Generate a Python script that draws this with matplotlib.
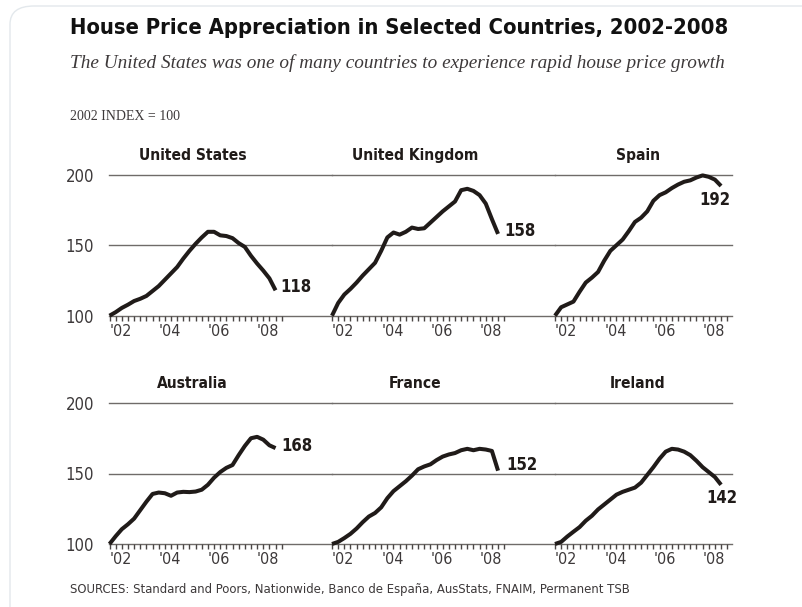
import matplotlib
matplotlib.use("Agg")
import matplotlib.pyplot as plt
import numpy as np
from matplotlib import font_manager as fm
from matplotlib.patches import FancyBboxPatch

# ---------------- data (2002 index = 100, quarterly) ----------------
quarters = [2002 + 0.25 * i for i in range(28)]

us = [100, 102.5, 105.5, 107.8, 110.4, 112, 114, 117.5, 121, 125.5, 130, 134.5,
      140.5, 146, 151, 155.5, 159.5, 159.5, 157, 156.5, 155, 151.5, 148.8, 142.5,
      137, 132, 126.5, 118]
uk = [100, 109, 115, 119, 123.5, 128.5, 133, 137.5, 146, 155.5, 159, 157.5,
      159.5, 162.5, 161.5, 162, 166, 170, 174, 177.5, 181, 189, 190, 188.5,
      185.5, 179.5, 168.5, 158]
spain = [100, 106, 108, 110, 117, 123.5, 127, 131, 139, 146, 150, 154,
         160, 166.5, 169.5, 174, 181.5, 185.5, 187.5, 190.5, 193, 195, 196, 198,
         199.5, 198.5, 196.5, 192]
australia = [100, 105.5, 110.5, 114, 118, 124, 130, 135.5, 136.5, 136, 134.2, 136.5,
             137, 136.8, 137.2, 138.5, 142, 147, 151, 154, 156, 163, 169.5, 175,
             176, 174, 170, 168]
france = [100, 101.5, 104.2, 107.2, 111, 115.5, 119.5, 122, 126, 132.5, 137.5, 141,
          144.5, 148.5, 153, 155, 156.5, 159.5, 162, 163.5, 164.5, 166.5, 167.5, 166.5,
          167.5, 167, 166, 152]
ireland = [100, 101.5, 105.3, 108.7, 112, 116.5, 120, 124.5, 128, 131.5, 135, 137,
           138.5, 140, 143.5, 149, 154.5, 160.5, 165.5, 167.5, 167, 165.5, 163, 159,
           154.5, 151, 147.5, 142]

countries = ["United States", "United Kingdom", "Spain", "Australia", "France", "Ireland"]
series = [us, uk, spain, australia, france, ireland]
year_ticks = [2002, 2004, 2006, 2008]
year_labels = ["'02", "'04", "'06", "'08"]
y_ticks = [100, 150, 200]

# ---------------- style ----------------
INK = "#201b19"
SOFT = "#3d393a"
GRID = "#6f6b69"
SERIF = ["Liberation Serif", "DejaVu Serif"]

# pick a condensed sans if one is installed
_fonts = fm.fontManager.ttflist
if any(f.name == "DejaVu Sans" and f.stretch == "condensed" for f in _fonts):
    COND = dict(family="DejaVu Sans", stretch="condensed")
else:
    COND = dict(family=["Liberation Sans", "DejaVu Sans"])

W, H = 802, 607
fig = plt.figure(figsize=(W / 100, H / 100), dpi=100)
fig.patch.set_facecolor("white")
renderer = fig.canvas.get_renderer()


def fit_width(txt, target_px):
    # scale a text so it spans the same width as in the reference
    w = txt.get_window_extent(renderer=renderer).width
    txt.set_fontsize(txt.get_fontsize() * target_px / w)


# faint card border
card = FancyBboxPatch((10 / W, -0.05), 1.2, 1 - 6 / H + 0.05,
                      boxstyle="round,pad=0,rounding_size=0.03",
                      transform=fig.transFigure, facecolor="none",
                      edgecolor="#e3e8ec", linewidth=1.0)
fig.patches.append(card)

PX_PER_YEAR = 24.6
col_left = [109.5, 332, 555]
col_right = [332, 555, 732]
row_base = [315.7, 544.0]     # pixel y of the 100 line
px_per_unit = 1.41
ymax = 206
title_rows = [155, 384]

axes = []
for k, (name, vals) in enumerate(zip(countries, series)):
    r, c = divmod(k, 3)
    left = col_left[c] / W
    width = (col_right[c] - col_left[c]) / W
    height = (ymax - 100) * px_per_unit / H
    bottom = 1 - row_base[r] / H
    ax = fig.add_axes([left, bottom, width, height])
    axes.append(ax)
    ax.set_xlim(2002, 2002 + (col_right[c] - col_left[c]) / PX_PER_YEAR)
    ax.set_ylim(100, ymax)
    for s in ax.spines.values():
        s.set_visible(False)
    ax.patch.set_alpha(0)

    for yv in y_ticks:
        ax.axhline(yv, color=GRID, lw=1.0, zorder=1, clip_on=False)

    ax.plot(quarters[:len(vals)], vals, color=INK, lw=2.9,
            solid_capstyle="butt", solid_joinstyle="round", zorder=3, clip_on=False)

    # ticks
    ax.set_xticks(year_ticks, year_labels)
    ax.set_xticks(np.arange(2002, 2009.01, 0.25), minor=True)
    ax.tick_params(axis="x", which="both", direction="out", length=3.4, width=1.0,
                   color="#4a4645", pad=2.5, labelsize=11.5, labelcolor=SOFT)
    for lbl in ax.get_xticklabels():
        lbl.set_ha("left")
        lbl.set_family(COND["family"])
        if "stretch" in COND:
            lbl.set_stretch(COND["stretch"])
    if c == 0:
        ax.set_yticks(y_ticks, [str(v) for v in y_ticks])
        ax.tick_params(axis="y", length=0, pad=11, labelsize=12, labelcolor=SOFT)
        for lbl in ax.get_yticklabels():
            lbl.set_family(COND["family"])
            if "stretch" in COND:
                lbl.set_stretch(COND["stretch"])
    else:
        ax.set_yticks([])

    # panel title, centred over the data span
    mid = (quarters[0] + quarters[len(vals) - 1]) / 2
    t = fig.text((col_left[c] + (mid - 2002) * PX_PER_YEAR) / W, 1 - title_rows[r] / H, name,
                 ha="center", va="center", fontweight="bold", fontsize=12,
                 color=INK, **COND)
    if k == 0:
        fit_width(t, 108)
        panel_fs = t.get_fontsize()
    else:
        t.set_fontsize(panel_fs)

# end-of-line value labels: (dx px, dy px, ha)
offsets = [(5, 3, "left"), (6, 3, "left"), (-6, -14, "center"),
           (6, 2, "left"), (8, 6, "left"), (1, -13, "center")]
for ax, vals, (dx, dy, ha) in zip(axes, series, offsets):
    ax.annotate(f"{vals[-1]:.0f}", (quarters[len(vals) - 1], vals[-1]),
                xytext=(dx * 0.72, dy * 0.72), textcoords="offset points",
                ha=ha, va="center", fontweight="bold", fontsize=12,
                color=INK, **COND)

# headings
t = fig.text(70 / W, 1 - 18 / H, "House Price Appreciation in Selected Countries, 2002-2008",
             ha="left", va="top", fontweight="bold", fontsize=20, color="#111111", **COND)
fit_width(t, 658)
t = fig.text(70 / W, 1 - 54 / H,
             "The United States was one of many countries to experience rapid house price growth",
             ha="left", va="top", family=SERIF, style="italic", fontsize=13.5, color=SOFT)
fit_width(t, 655)
t = fig.text(70 / W, 1 - 110 / H, "2002 INDEX = 100", ha="left", va="top",
             family=SERIF, fontsize=10.5, color=SOFT)
fit_width(t, 110)
t = fig.text(70 / W, 1 - 590 / H,
             "SOURCES: Standard and Poors, Nationwide, Banco de España, AusStats, FNAIM, Permanent TSB",
             ha="left", va="center", fontsize=11.5, color=SOFT, **COND)
fit_width(t, 560)

fig.savefig("out.png", dpi=100, facecolor="white")
